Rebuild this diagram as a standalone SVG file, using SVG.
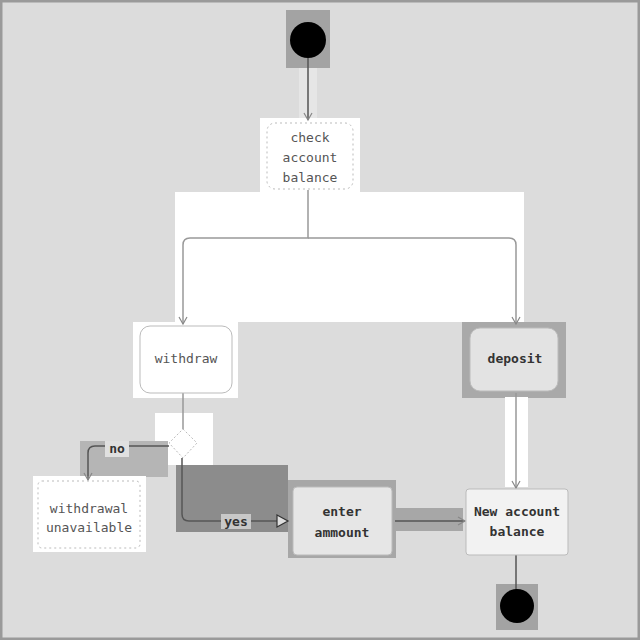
<svg xmlns="http://www.w3.org/2000/svg" width="640" height="640" viewBox="0 0 640 640">
  <style>
    .lbl { font-family: "DejaVu Sans Mono", "Liberation Mono", monospace; font-size: 13px; fill: #555; text-anchor: middle; }
    .bold { fill: #333; font-weight: bold; }
    .node { stroke: #bbb; stroke-width: 1; }
    .edge { fill: none; stroke: #999; stroke-width: 1.5; }
    .dark { stroke: #555; }
  </style>
  <defs>
    <marker id="arr" markerWidth="10" markerHeight="10" refX="8" refY="5" orient="auto" markerUnits="userSpaceOnUse">
      <path d="M1,1 L8,5 L1,9" fill="none" stroke="#888" stroke-width="1.2"/>
    </marker>
    <marker id="tri" markerWidth="14" markerHeight="14" refX="12" refY="7" orient="auto" markerUnits="userSpaceOnUse">
      <path d="M1,1 L12,7 L1,13 Z" fill="#ddd" stroke="#333" stroke-width="1.2"/>
    </marker>
  </defs>

  <!-- canvas and frame -->
  <rect x="0" y="0" width="640" height="640" fill="#dcdcdc"/>
  <rect x="1" y="1" width="638" height="638" fill="none" stroke="#9a9a9a" stroke-width="3"/>

  <!-- shaded backdrops -->
  <rect x="286" y="10" width="44" height="58" fill="#a3a3a3"/>
  <rect x="299" y="68" width="18" height="50" fill="#e6e6e6"/>
  <rect x="260" y="118" width="100" height="74" fill="#ffffff"/>
  <rect x="175" y="192" width="349" height="130" fill="#ffffff"/>
  <rect x="133" y="322" width="105" height="76" fill="#ffffff"/>
  <rect x="462" y="322" width="104" height="76" fill="#a9a9a9"/>
  <rect x="505" y="397" width="23" height="90" fill="#ffffff"/>
  <rect x="155" y="413" width="58" height="52" fill="#ffffff"/>
  <rect x="80" y="441" width="88" height="36" fill="#b5b5b5"/>
  <rect x="33" y="476" width="113" height="76" fill="#ffffff"/>
  <rect x="176" y="465" width="112" height="67" fill="#8c8c8c"/>
  <rect x="288" y="480" width="108" height="78" fill="#a7a7a7"/>
  <rect x="395" y="508" width="68" height="23" fill="#a7a7a7"/>
  <rect x="496" y="584" width="42" height="46" fill="#a3a3a3"/>

  <!-- connectors -->
  <g id="connectors">
    <path class="edge dark" d="M308,58 V120" marker-end="url(#arr)"/>
    <path class="edge" d="M308,190 V238 H190 Q183,238 183,245 V324" marker-end="url(#arr)"/>
    <path class="edge" d="M308,238 H509 Q516,238 516,245 V324" marker-end="url(#arr)"/>
    <path class="edge" d="M183,393 V429"/>
    <path class="edge dark" d="M169,446 H95 Q88,446 88,453 V480" marker-end="url(#arr)"/>
    <rect x="105" y="441" width="24" height="16" fill="#e0e0e0"/>
    <text class="lbl bold" x="117" y="453">no</text>
    <path class="edge dark" d="M182,458 V514 Q182,521 189,521 H288" marker-end="url(#tri)"/>
    <rect x="221" y="514" width="30" height="15" fill="#c8c8c8"/>
    <text class="lbl bold" x="236" y="526">yes</text>
    <path class="edge dark" d="M395,521 H465" marker-end="url(#arr)"/>
    <path class="edge" d="M516,393 V488" marker-end="url(#arr)"/>
    <path class="edge dark" d="M516,555 V590" stroke-width="3"/>
  </g>

  <g id="start">
    <circle cx="308" cy="40" r="18" fill="#000"/>
  </g>

  <g id="check-balance">
    <rect class="node" x="267" y="123" width="86" height="66" rx="8" fill="#fff" stroke-dasharray="2,3"/>
    <text class="lbl" x="310" y="142">check</text>
    <text class="lbl" x="310" y="162">account</text>
    <text class="lbl" x="310" y="182">balance</text>
  </g>

  <g id="withdraw">
    <rect class="node" x="140" y="326" width="92" height="67" rx="10" fill="#fff"/>
    <text class="lbl" x="186" y="363">withdraw</text>
  </g>

  <g id="deposit">
    <rect class="node" x="470" y="328" width="88" height="63" rx="10" fill="#e3e3e3" stroke="#999"/>
    <text class="lbl bold" x="515" y="363">deposit</text>
  </g>

  <g id="decision">
    <path d="M183,429 L197,443 L183,458 L169,443 Z" fill="#fff" stroke="#bbb" stroke-dasharray="2,2"/>
  </g>

  <g id="withdrawal-unavailable">
    <rect class="node" x="38" y="481" width="102" height="67" rx="4" fill="#fff" stroke-dasharray="2,3"/>
    <text class="lbl" x="89" y="513">withdrawal</text>
    <text class="lbl" x="89" y="532">unavailable</text>
  </g>

  <g id="enter-amount">
    <rect class="node" x="293" y="487" width="99" height="68" rx="4" fill="#e6e6e6" stroke="#999"/>
    <text class="lbl bold" x="342" y="516">enter</text>
    <text class="lbl bold" x="342" y="537">ammount</text>
  </g>

  <g id="new-balance">
    <rect class="node" x="466" y="489" width="102" height="66" rx="3" fill="#f2f2f2" stroke="#aaa"/>
    <text class="lbl bold" x="517" y="516">New account</text>
    <text class="lbl bold" x="517" y="536">balance</text>
  </g>

  <g id="end">
    <circle cx="517" cy="606" r="17" fill="#000"/>
  </g>
</svg>
